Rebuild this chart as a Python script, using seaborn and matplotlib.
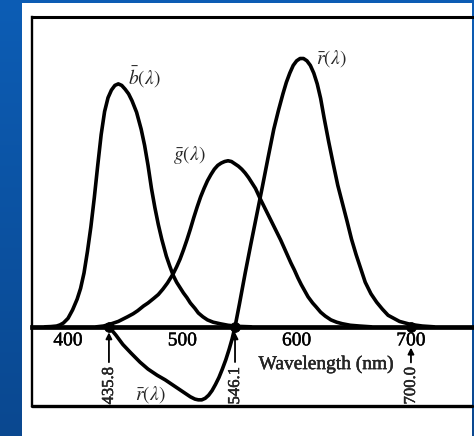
import numpy as np
import pandas as pd
import matplotlib
matplotlib.use("Agg")
import matplotlib.pyplot as plt
import matplotlib.patheffects as pe
from matplotlib.patches import Rectangle
from matplotlib.colors import LinearSegmentedColormap
import seaborn as sns

# CIE 1931 RGB colour-matching functions (relative units)
b_wl = [380, 385, 390, 393, 396, 400, 404, 408, 411, 414, 417, 420, 423, 426,
        429, 432, 435, 438, 441, 444, 447, 450, 453, 456, 460, 464, 467, 470,
        473, 476, 479, 482, 486, 489, 492, 495, 498, 501, 504, 507, 511, 514,
        518, 522, 527, 533, 540, 550, 560]
b_val = [0.0, 0.003, 0.01, 0.025, 0.05, 0.11, 0.22, 0.36, 0.50, 0.70, 0.98,
         1.30, 1.68, 2.10, 2.50, 2.80, 2.98, 3.08, 3.14, 3.16, 3.14, 3.09, 3.03,
         2.94, 2.79, 2.57, 2.36, 2.10, 1.80, 1.55, 1.33, 1.14, 0.92, 0.79, 0.67,
         0.58, 0.51, 0.44, 0.38, 0.31, 0.24, 0.18, 0.13, 0.09, 0.06, 0.04, 0.02,
         0.005, 0.0]

g_wl = [425, 431, 436, 440, 444, 448, 452, 457, 461, 466, 470, 475, 479, 483,
        487, 492, 495, 498, 501, 504, 507, 510, 513, 516, 519, 522, 525, 528,
        531, 534, 537, 540, 543, 546, 549, 552, 555, 558, 561, 564, 568, 571,
        575, 578, 582, 586, 589, 592, 595, 598, 601, 604, 607, 610, 614, 617,
        621, 625, 630, 635, 640, 647, 655, 665]
g_val = [0.0, 0.01, 0.03, 0.05, 0.07, 0.10, 0.13, 0.17, 0.21, 0.27, 0.31, 0.37,
         0.42, 0.49, 0.57, 0.69, 0.78, 0.88, 1.00, 1.13, 1.27, 1.42, 1.56, 1.69,
         1.80, 1.90, 1.98, 2.05, 2.10, 2.13, 2.15, 2.16, 2.15, 2.12, 2.09, 2.05,
         2.00, 1.94, 1.87, 1.80, 1.67, 1.58, 1.46, 1.37, 1.25, 1.13, 1.03, 0.93,
         0.83, 0.74, 0.64, 0.55, 0.47, 0.39, 0.31, 0.26, 0.19, 0.14, 0.09, 0.06,
         0.04, 0.02, 0.01, 0.0]

r_wl = [435.8, 442, 448, 455, 463, 470, 478, 485, 492, 498, 503, 507, 511, 514,
        517, 520, 523, 526, 529, 532, 535, 538, 541, 543.5, 546.1, 550, 555,
        560, 565, 570, 575, 580, 584, 588, 591, 594, 597, 600, 603, 606, 609,
        612, 615, 618, 621, 624, 628, 632, 636, 640, 644, 648, 652, 656, 660,
        665, 670, 675, 680, 685, 690, 695, 700, 710, 720]
r_val = [0.0, -0.11, -0.23, -0.34, -0.46, -0.55, -0.63, -0.69, -0.76, -0.82,
         -0.87, -0.91, -0.94, -0.95, -0.95, -0.93, -0.89, -0.83, -0.75, -0.66,
         -0.55, -0.43, -0.29, -0.16, 0.0, 0.30, 0.70, 1.08, 1.45, 1.82, 2.20,
         2.57, 2.81, 3.03, 3.18, 3.30, 3.40, 3.46, 3.49, 3.49, 3.46, 3.40, 3.30,
         3.16, 2.97, 2.72, 2.41, 2.12, 1.84, 1.61, 1.38, 1.14, 0.94, 0.76, 0.58,
         0.43, 0.32, 0.23, 0.15, 0.11, 0.07, 0.05, 0.03, 0.01, 0.0]

# primary wavelengths marked on the axis
primary_wl = [435.8, 546.1, 700.0]
primary_labels = ["435.8", "546.1", "700.0"]

xtick_values = [400, 500, 600, 700]
xtick_minor = [450, 550, 650, 750]
ytick_values = [1, 2, 3]

curve_labels = [r"$\bar{b}(\lambda)$", r"$\bar{g}(\lambda)$",
                r"$\bar{r}(\lambda)$", r"$\bar{r}(\lambda)$"]
curve_label_pos = [(467, 3.25), (506, 2.23), (630, 3.49), (472, -0.88)]

df = pd.concat([
    pd.DataFrame({"wavelength": b_wl, "value": b_val, "curve": "b"}),
    pd.DataFrame({"wavelength": g_wl, "value": g_val, "curve": "g"}),
    pd.DataFrame({"wavelength": r_wl, "value": r_val, "curve": "r"}),
], ignore_index=True)

sns.set_style("white")
plt.rcParams["font.family"] = ["Liberation Serif", "DejaVu Serif"]
plt.rcParams["mathtext.fontset"] = "stix"

# slightly heavier type, like a printed figure
heavy = [pe.withStroke(linewidth=0.3, foreground="black")]

W, H = 474, 436
fig = plt.figure(figsize=(W / 100, H / 100), dpi=100)

# slide-style background: blue gradient with a white panel
bg = fig.add_axes([0, 0, 1, 1], zorder=-10)
grad = np.linspace(0, 1, 256).reshape(-1, 1)
cmap = LinearSegmentedColormap.from_list("slide", ["#0d5db5", "#0a4890"])
bg.imshow(grad, aspect="auto", cmap=cmap, extent=[0, 1, 0, 1], origin="upper")
bg.add_patch(Rectangle((22 / W, 0), 450 / W, 433 / H, transform=bg.transAxes,
                       facecolor="white", edgecolor="none"))
bg.set_xlim(0, 1)
bg.set_ylim(0, 1)
bg.axis("off")

ax = fig.add_axes([32 / W, 30 / H, 440 / W, 389 / H])
ax.set_facecolor("white")

sns.lineplot(data=df, x="wavelength", y="value", units="curve", estimator=None,
             sort=False, color="black", lw=2.6, ax=ax, legend=False,
             solid_joinstyle="round", solid_capstyle="round")

sns.scatterplot(x=primary_wl, y=[0] * len(primary_wl), color="black", s=50,
                edgecolor="black", zorder=6, ax=ax, legend=False)

ax.set_xlim(368.5, 753.4)
ax.set_ylim(-1.03, 4.03)

# frame: x axis through zero, box around the plot
ax.spines["bottom"].set_position(("data", 0))
ax.spines["bottom"].set_linewidth(3.4)
ax.spines["top"].set_linewidth(2.2)
ax.spines["left"].set_linewidth(1.7)
ax.spines["right"].set_visible(False)
for s in ["bottom", "top", "left"]:
    ax.spines[s].set_color("black")
ax.plot([0, 1], [0, 0], transform=ax.transAxes, color="black", lw=2.4,
        clip_on=False)

ax.set_xticks(xtick_values)
ax.set_xticklabels([str(v) for v in xtick_values])
ax.set_xticks(xtick_minor, minor=True)
ax.set_yticks(ytick_values)
ax.set_yticklabels([])
ax.tick_params(axis="x", which="major", direction="in", length=6, width=1.5,
               labelsize=14, pad=4, colors="black")
ax.tick_params(axis="x", which="minor", direction="in", length=4, width=1.2)
ax.tick_params(axis="y", direction="in", length=7, width=2, colors="black")
for t in ax.get_xticklabels():
    t.set_path_effects(heavy)
ax.set_xlabel("")
ax.set_ylabel("")

ax.text(626, -0.49, "Wavelength (nm)", fontsize=14, ha="center", va="center",
        path_effects=heavy)

for (x, y), lab in zip(curve_label_pos, curve_labels):
    ax.text(x, y, lab, fontsize=14, ha="center", va="center")

arrow_gap = [4, 4, 15]
for wl, lab, gap in zip(primary_wl, primary_labels, arrow_gap):
    ax.annotate(lab, xy=(wl, 0), xytext=(wl, -1.01), rotation=90,
                ha="center", va="bottom", fontsize=12, path_effects=heavy,
                arrowprops=dict(arrowstyle="-|>", color="black", lw=1.3,
                                shrinkA=1, shrinkB=gap, mutation_scale=9))

fig.savefig("out.png", dpi=100)
